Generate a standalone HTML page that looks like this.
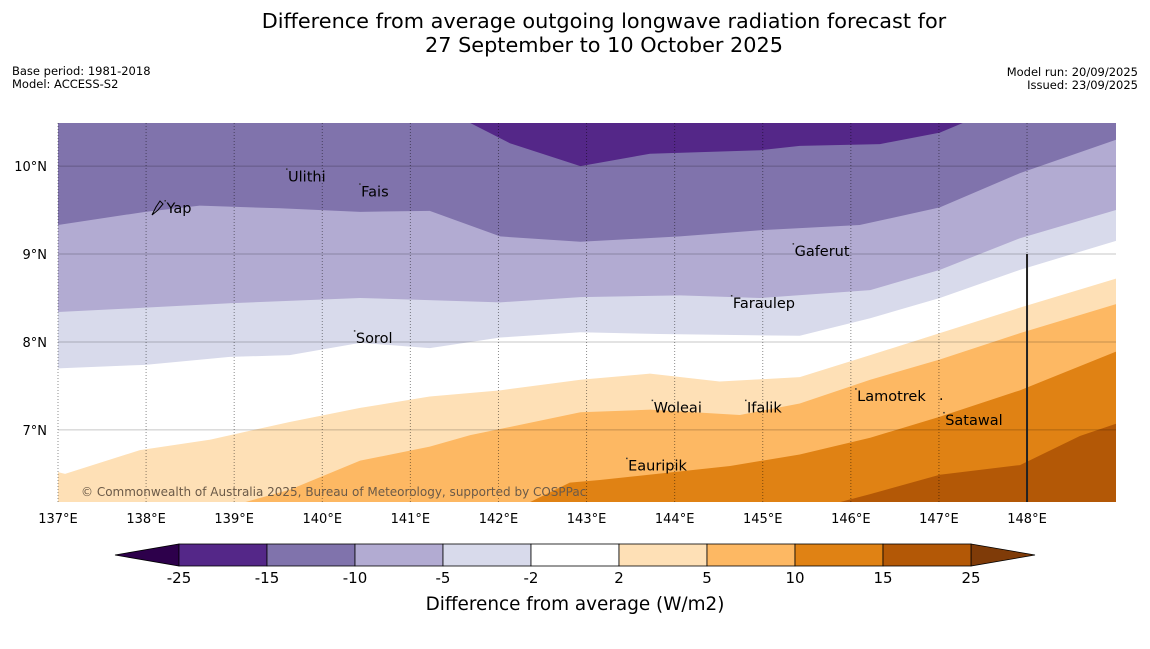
<!DOCTYPE html>
<html><head><meta charset="utf-8"><style>
body{margin:0;background:#fff;width:1150px;height:644px;overflow:hidden;font-family:"Liberation Sans","DejaVu Sans",sans-serif}
</style></head><body>
<svg id="s" width="1150" height="644" xmlns="http://www.w3.org/2000/svg" font-family="DejaVu Sans, Liberation Sans, sans-serif">
<text x="604" y="28" font-size="20.8" text-anchor="middle">Difference from average outgoing longwave radiation forecast for</text>
<text x="604" y="52" font-size="20.8" text-anchor="middle">27 September to 10 October 2025</text>
<text x="12" y="75" font-size="11.5">Base period: 1981-2018</text>
<text x="12" y="88" font-size="11.5">Model: ACCESS-S2</text>
<text x="1138" y="76" font-size="11.5" text-anchor="end">Model run: 20/09/2025</text>
<text x="1138" y="89" font-size="11.5" text-anchor="end">Issued: 23/09/2025</text>
<defs><clipPath id="mc"><rect x="58" y="123" width="1058" height="379"/></clipPath></defs>
<g id="map" clip-path="url(#mc)"></g>
<g id="grid"></g>
<g id="axes"></g>
<g id="cbar"></g>
<text x="575" y="610" font-size="18.4" text-anchor="middle">Difference from average (W/m2)</text>
</svg>
<script>
const lonMin=137, lonMax=149.01, latMin=6.18, latMax=10.49;
const X0=58,X1=1116,Y0=123,Y1=502;
const xTicks=[137,138,139,140,141,142,143,144,145,146,147,148];
const yTicks=[7,8,9,10];
const levels=[-25,-15,-10,-5,-2,2,5,10,15,25];
const levelColors=["#542788","#8073ac","#b2abd2","#d8daeb","#ffffff","#fee0b6","#fdb863","#e08214","#b35806"];
// contour boundaries (lon, lat)
const b15Lon=[145.88,146.22,147.01,147.92,148.60,149.01];
const b15Lat=[6.18,6.27,6.49,6.60,6.93,7.07];
const b10Lon=[142.36,142.81,143.15,144.63,145.42,146.22,147.01,147.92,149.01];
const b10Lat=[6.18,6.40,6.43,6.59,6.72,6.91,7.15,7.45,7.89];
const b5Lon=[137,138.95,139.63,140.43,141.22,141.68,142.93,143.72,144.74,145.42,146.22,147.01,147.92,149.01];
const b5Lat=[6.18,6.18,6.32,6.65,6.81,6.94,7.20,7.23,7.17,7.30,7.57,7.80,8.10,8.43];
const b2Lon=[137,137.08,137.93,138.73,139.63,140.43,141.22,142.02,142.93,143.72,144.51,145.42,146.22,147.01,147.92,149.01];
const b2Lat=[6.52,6.50,6.77,6.89,7.09,7.25,7.38,7.45,7.57,7.64,7.55,7.60,7.85,8.10,8.39,8.72];
const bm2Lon=[137,137.99,138.95,139.63,140.43,141.22,142.02,142.93,143.83,145.42,146.22,147.01,147.92,149.01];
const bm2Lat=[7.70,7.74,7.83,7.85,7.99,7.93,8.05,8.11,8.09,8.07,8.27,8.50,8.82,9.15];
const bm5Lon=[137,137.99,138.95,140.43,142.02,142.93,144.06,144.97,146.22,147.01,147.92,149.01];
const bm5Lat=[8.34,8.39,8.44,8.50,8.45,8.51,8.53,8.50,8.59,8.82,9.18,9.50];
const bm10Lon=[137,137.99,138.61,139.52,140.43,141.22,142.02,142.93,144.06,144.97,146.10,147.01,147.92,149.01];
const bm10Lat=[9.33,9.48,9.55,9.52,9.48,9.49,9.20,9.14,9.20,9.27,9.33,9.53,9.92,10.30];
const bm15Lon=[141.68,142.13,142.93,143.72,144.97,145.42,146.33,147.01,147.27];
const bm15Lat=[10.49,10.26,10.0,10.14,10.18,10.23,10.25,10.38,10.49];
const islandNames=["Yap","Ulithi","Fais","Gaferut","Faraulep","Sorol","Woleai","Ifalik","Lamotrek","Satawal","Eauripik"];
const islandLon=[138.22,139.60,140.43,145.35,144.65,140.37,143.75,144.81,146.06,147.06,143.46];
const islandLat=[9.58,9.94,9.77,9.09,8.50,8.10,7.31,7.31,7.44,7.17,6.65];

const NS="http://www.w3.org/2000/svg";
const sx=v=>X0+(v-lonMin)/(lonMax-lonMin)*(X1-X0);
const sy=v=>Y1-(v-latMin)/(latMax-latMin)*(Y1-Y0);
function mk(tag,attrs,parent){const e=document.createElementNS(NS,tag);for(const k in attrs)e.setAttribute(k,attrs[k]);parent.appendChild(e);return e;}
const map=document.getElementById('map');
const base=mk('rect',{x:X0,y:Y0,width:X1-X0,height:Y1-Y0,fill:levelColors[8]},map);


function above(lons,lats,color,name){
  let pts=lons.map((l,i)=>sx(l)+','+sy(lats[i]));
  pts.push(sx(lons[lons.length-1])+','+(Y0-5));
  pts.push(sx(lons[0])+','+(Y0-5));
  const p=mk('polygon',{points:pts.join(' '),fill:color},map);
  
  
}
function aboveFull(lons,lats,color,name){
  let pts=[(X0-5)+','+sy(lats[0])].concat(lons.map((l,i)=>sx(l)+','+sy(lats[i])));
  pts.push((X1+5)+','+sy(lats[lats.length-1]));pts.push((X1+5)+','+(Y0-5));pts.push((X0-5)+','+(Y0-5));
  const p=mk('polygon',{points:pts.join(' '),fill:color},map);
  
  
}
let hp=[sx(b15Lon[0])+','+(Y1+5)].concat(b15Lon.map((l,i)=>sx(l)+','+sy(b15Lat[i])));
hp.push((X1+5)+','+sy(b15Lat[b15Lat.length-1]),(X1+5)+','+(Y0-5),(X0-5)+','+(Y0-5),(X0-5)+','+(Y1+5));
const p15=mk('polygon',{points:hp.join(' '),fill:levelColors[7]},map);


let gp=[sx(b10Lon[0])+','+(Y1+5)].concat(b10Lon.map((l,i)=>sx(l)+','+sy(b10Lat[i])));
gp.push((X1+5)+','+sy(b10Lat[b10Lat.length-1]),(X1+5)+','+(Y0-5),(X0-5)+','+(Y0-5),(X0-5)+','+(Y1+5));
const p10=mk('polygon',{points:gp.join(' '),fill:levelColors[6]},map);


aboveFull(b5Lon,b5Lat.map(v=>v-0.05*(v<=6.18)),levelColors[5],'region-2-5');
aboveFull(b2Lon,b2Lat,levelColors[4],'region-neutral');
aboveFull(bm2Lon,bm2Lat,levelColors[3],'region-minus2-minus5');
aboveFull(bm5Lon,bm5Lat,levelColors[2],'region-minus5-minus10');
aboveFull(bm10Lon,bm10Lat,levelColors[1],'region-minus10-minus15');
above(bm15Lon,bm15Lat,levelColors[0],'region-minus15-minus25');

const grid=document.getElementById('grid');
yTicks.forEach(t=>{const l=mk('line',{x1:X0,x2:X1,y1:sy(t),y2:sy(t),stroke:'#000','stroke-opacity':0.22,'stroke-width':1},grid);

});
xTicks.forEach(t=>{const l=mk('line',{x1:sx(t),x2:sx(t),y1:Y0,y2:Y1,stroke:'#000','stroke-opacity':0.45,'stroke-width':1,'stroke-dasharray':'1,2'},grid);

});
const bl=mk('line',{x1:sx(148),x2:sx(148),y1:sy(9),y2:Y1,stroke:'#222','stroke-width':2},grid);


islandNames.forEach((n,i)=>{
  const x=sx(islandLon[i]),y=sy(islandLat[i]);
  const d=mk('rect',{x:x-1,y:y-3,width:1.5,height:1.5,fill:'#333'},grid);
  
  
  const t=mk('text',{x:x+1,y:y+10,'font-size':14.5,fill:'#000'},grid);t.textContent=n;
  
  
});
const yapIcon=mk('path',{d:'M152,215 L156,207 L160,201 L163,204 L158,210 Z',fill:'none',stroke:'#000','stroke-width':1},grid);


const lam=mk('text',{x:939,y:400,'font-size':14},grid);lam.textContent='.';


const cp=mk('text',{x:81,y:496,'font-size':12,fill:'#6b5a48'},grid);cp.textContent='© Commonwealth of Australia 2025, Bureau of Meteorology, supported by COSPPac';



const axes=document.getElementById('axes');
xTicks.forEach(t=>{const e=mk('text',{x:sx(t),y:523,'font-size':13,'text-anchor':'middle'},axes);e.textContent=t+'°E';

});
yTicks.forEach(t=>{const e=mk('text',{x:47,y:sy(t)+5,'font-size':13,'text-anchor':'end'},axes);e.textContent=t+'°N';

});

const cb=document.getElementById('cbar');
const cx0=179,cw=88,cy=544,ch=22;
const lt=mk('polygon',{points:`115,${cy+ch/2} ${cx0},${cy} ${cx0},${cy+ch}`,fill:'#2d004b',stroke:'#000','stroke-width':0.8},cb);


const ex=cx0+cw*levelColors.length;
const rt=mk('polygon',{points:`${ex},${cy} 1035,${cy+ch/2} ${ex},${cy+ch}`,fill:'#7f3b08',stroke:'#000','stroke-width':0.8},cb);


levelColors.forEach((c,i)=>{const r=mk('rect',{x:cx0+i*cw,y:cy,width:cw,height:ch,fill:c,stroke:'#000','stroke-width':0.8},cb);

});
levels.forEach((v,i)=>{const t=mk('text',{x:cx0+i*cw,y:583,'font-size':15,'text-anchor':'middle'},cb);t.textContent=v;

});
</script>
</body></html>
